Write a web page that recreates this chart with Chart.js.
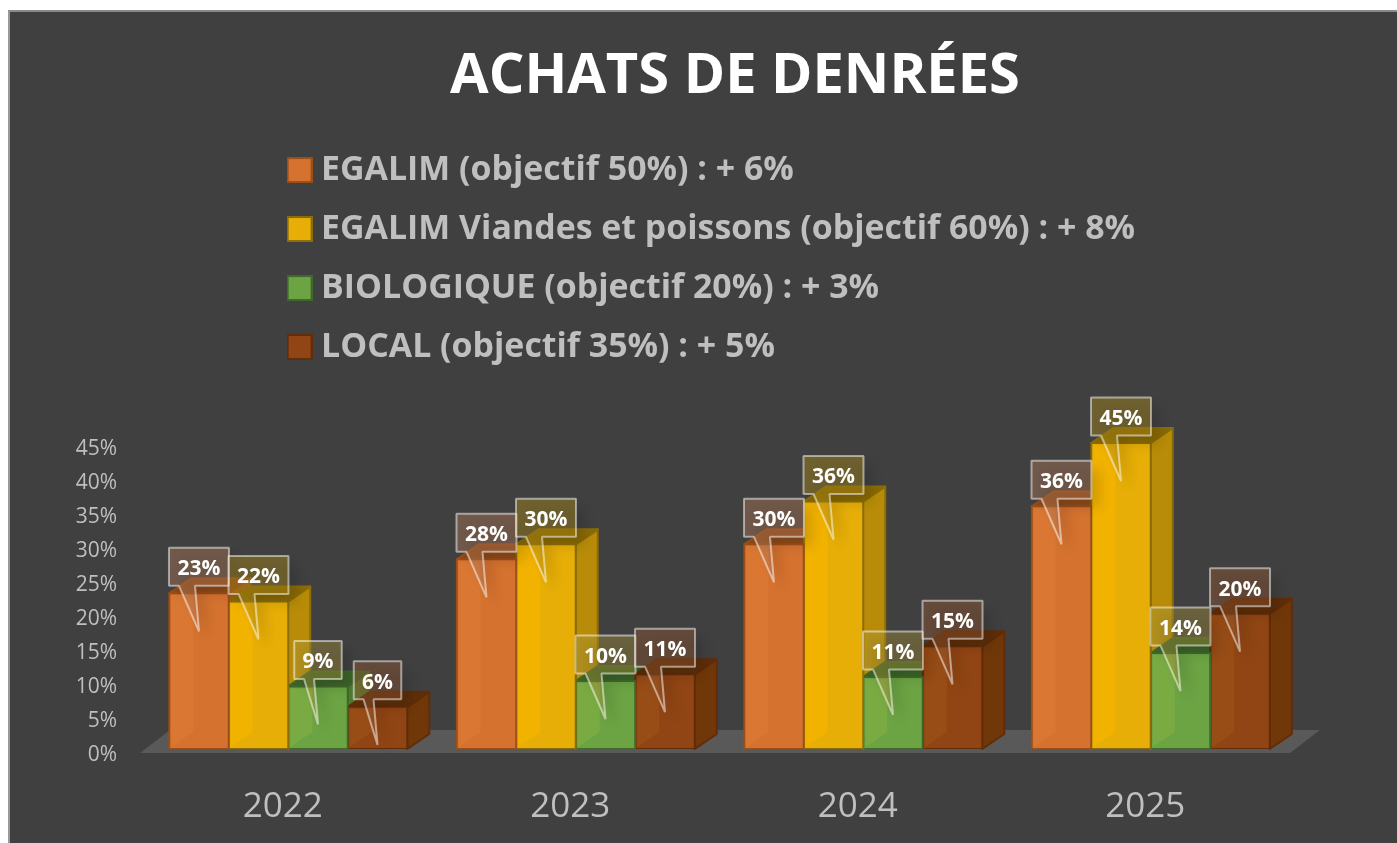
<!DOCTYPE html>
<html><head><meta charset="utf-8">
<script src="https://cdn.jsdelivr.net/npm/chart.js@4/dist/chart.umd.js"></script>
<style>
html,body{margin:0;padding:0;background:#fff;overflow:hidden}
#panel{position:absolute;left:8px;top:10px;width:1389px;height:833px;background:#404040;border-left:2px solid #999;border-top:2px solid #8a8a8a;box-sizing:border-box}
canvas{position:absolute;left:0;top:0}
</style></head><body>
<div id="panel"></div>
<canvas id="c" width="1397" height="843"></canvas>
<script>
const years = ['2022','2023','2024','2025'];
const titleText = 'ACHATS DE DENRÉES';
const egalim = [22.9, 27.9, 30.1, 35.7];
const egalimViandes = [21.7, 30.1, 36.4, 45];
const biologique = [9.2, 10, 10.6, 14.1];
const local = [6.2, 11, 15.1, 19.9];
const seriesNames = ['EGALIM (objectif 50%) : + 6%','EGALIM Viandes et poissons (objectif 60%) : + 8%','BIOLOGIQUE (objectif 20%) : + 3%','LOCAL (objectif 35%) : + 5%'];
const yTicks = [0,5,10,15,20,25,30,35,40,45];

const FONT = '"Open Sans"';
const looks = [
 {front:'#d5722f',light:'#da7833',side:'#a5591f',top:'#8f4a1a',line:'#9a4e18',box:'rgba(185,125,90,.4)'},
 {front:'#e6ae07',light:'#f2b200',side:'#b88c08',top:'#8a6a04',line:'#8a6c08',box:'rgba(182,145,25,.4)'},
 {front:'#6ca343',light:'#7aab42',side:'#4e7a30',top:'#3c6428',line:'#3f682b',box:'rgba(170,150,60,.4)'},
 {front:'#914514',light:'#994d16',side:'#703809',top:'#5e2f0a',line:'#622c08',box:'rgba(152,90,50,.4)'}
];
const DX = 22, DY = 15;

function swatch(l){
  const s=document.createElement('canvas'); s.width=26; s.height=26;
  const x=s.getContext('2d');
  x.fillStyle=l.front; x.fillRect(1,1,24,24);
  x.strokeStyle=l.line; x.lineWidth=2; x.strokeRect(1,1,24,24);
  return s;
}
const swatches = looks.map(swatch);

const placeBlocks = {
  id:'placeBlocks',
  beforeDraw(chart){
    chart.titleBlock.left = 0; chart.titleBlock.right = 1470;
    chart.legend.left = 270; chart.legend.top = 128; chart.legend.bottom = 843; chart.legend.right = 1397;
  }
};

function poly(ctx,pts,fill,stroke){
  ctx.beginPath();
  pts.forEach((p,i)=> i? ctx.lineTo(p[0],p[1]) : ctx.moveTo(p[0],p[1]));
  ctx.closePath();
  ctx.fillStyle=fill; ctx.fill();
  if(stroke){ctx.strokeStyle=stroke;ctx.lineWidth=2;ctx.lineJoin='round';ctx.stroke();}
}

const faces3d = {
  id:'faces3d',
  beforeDatasetsDraw(chart){
    const ctx=chart.ctx, a=chart.chartArea;
    poly(ctx,[[a.left-4.5,a.bottom+4],[a.right-4.5,a.bottom+4],[a.right+25.5,a.bottom-19],[a.left+25.5,a.bottom-19]],'#595959');
    for(let j=0;j<years.length;j++){
      chart.data.datasets.forEach((d,i)=>{
        const b=chart.getDatasetMeta(i).data[j], l=b.x-b.width/2, r=b.x+b.width/2, l2=looks[i];
        poly(ctx,[[r,b.base],[r+DX,b.base-DY],[r+DX,b.y-DY],[r,b.y]],l2.side,l2.line);
        poly(ctx,[[l,b.y],[l+DX,b.y-DY],[r+DX,b.y-DY],[r,b.y]],l2.top,l2.line);
      });
    }
  },
  afterDatasetsDraw(chart){
    const ctx=chart.ctx;
    chart.data.datasets.forEach((d,i)=>{
      chart.getDatasetMeta(i).data.forEach(b=>{
        const l=b.x-b.width/2+2, t=b.y+2, bt=b.base-2;
        poly(ctx,[[l,t],[l+DX,t],[l+DX,bt-DY],[l,bt]],looks[i].light);
      });
    });
    // callouts
    chart.data.datasets.forEach((d,i)=>{
      chart.getDatasetMeta(i).data.forEach((b,j)=>{
        const txt=Math.round(d.data[j])+'%', w=txt.length>2?60:47.5, h=38;
        const cx=b.x, y1=b.y-7.5, y0=y1-h, x0=cx-w/2, x1=cx+w/2, tip=b.y+38;
        const bl=cx-(txt.length>2?20:14), br=cx-4;
        ctx.save();
        ctx.beginPath();
        ctx.moveTo(x0,y0);ctx.lineTo(x1,y0);ctx.lineTo(x1,y1);ctx.lineTo(br,y1);ctx.lineTo(cx,tip);ctx.lineTo(bl,y1);ctx.lineTo(x0,y1);ctx.closePath();
        ctx.shadowColor='rgba(0,0,0,.3)';ctx.shadowBlur=12;ctx.shadowOffsetX=9;ctx.shadowOffsetY=9;
        ctx.fillStyle=looks[i].box;ctx.fill();
        ctx.shadowColor='transparent';
        ctx.strokeStyle='rgba(255,255,255,.5)';ctx.lineWidth=2;ctx.lineJoin='bevel';ctx.stroke();
        ctx.fillStyle='#fff';ctx.font='bold 21px '+FONT;ctx.textAlign='center';ctx.textBaseline='middle';
        ctx.fillText(txt,cx,(y0+y1)/2+2.5);
        ctx.restore();
      });
    });
  }
};

const seriesValues=[egalim,egalimViandes,biologique,local];
new Chart(document.getElementById('c'),{
  type:'bar',
  data:{labels:years,datasets:seriesNames.map((n,i)=>({
    label:n,data:seriesValues[i],backgroundColor:looks[i].front,borderColor:looks[i].line,borderWidth:2,borderSkipped:false,inflateAmount:1,
    categoryPercentage:0.828,barPercentage:1
  }))},
  options:{
    responsive:false,animation:false,
    layout:{padding:{left:0,right:102.5,top:0,bottom:0}},
    plugins:{
      tooltip:{enabled:false},
      title:{display:true,text:titleText,color:'#ffffff',font:{family:FONT,size:56},padding:{top:43,bottom:332.8}},
      legend:{display:true,position:'chartArea',align:'start',
        labels:{color:'#bfbfbf',font:{family:FONT,size:33.9,weight:'bold'},padding:25.1,usePointStyle:true,pointStyleWidth:9,boxHeight:24,
          generateLabels(chart){return Chart.defaults.plugins.legend.labels.generateLabels(chart).map((it,i)=>Object.assign(it,{pointStyle:swatches[i]}));}}
      }
    },
    scales:{
      x:{afterFit(s){s.height=94;},grid:{display:false,drawTicks:false},border:{display:false},
         ticks:{color:'#bfbfbf',font:{family:FONT,size:35},padding:37,labelOffset:-5.5}},
      y:{min:0,max:45,afterFit(s){s.width=144.5;},grid:{display:false,drawTicks:false},border:{display:false},
         afterBuildTicks(s){s.ticks=yTicks.map(v=>({value:v}));},
         ticks:{color:'#bfbfbf',font:{family:FONT,size:21},padding:27.5,labelOffset:6,callback:v=>v+'%'}}
    }
  },
  plugins:[placeBlocks,faces3d]
});
</script>
</body></html>
